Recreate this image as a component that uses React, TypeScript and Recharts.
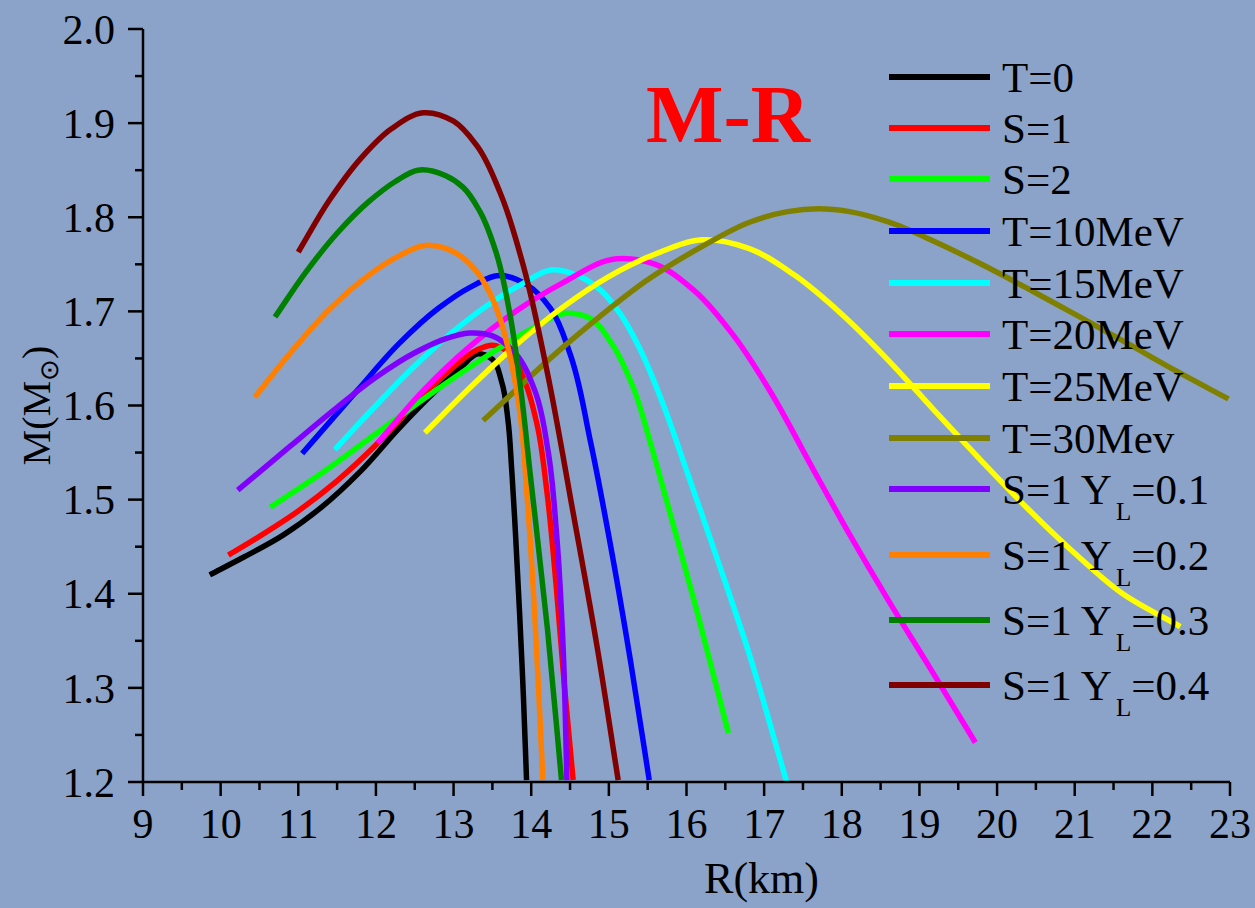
import { LineChart, Line, XAxis, YAxis, Legend, Customized } from 'recharts';

const FONT = "'Liberation Serif', 'Times New Roman', Times, serif";
const BG = '#8ba3c9';

// [R (km), M (Msun)]
const t0Curve = [[9.86, 1.42], [10.3, 1.439], [10.8, 1.462], [11.3, 1.492], [11.8, 1.53], [12.3, 1.576], [12.8, 1.618], [13.1, 1.641], [13.32, 1.655], [13.5, 1.649], [13.62, 1.625], [13.7, 1.585], [13.75, 1.53], [13.8, 1.46], [13.85, 1.38], [13.9, 1.29], [13.94, 1.202]];
const s1Curve = [[10.1, 1.441], [10.5, 1.461], [11.0, 1.488], [11.5, 1.52], [12.0, 1.558], [12.5, 1.602], [13.0, 1.641], [13.3, 1.659], [13.5, 1.664], [13.72, 1.656], [13.92, 1.625], [14.08, 1.578], [14.2, 1.51], [14.32, 1.41], [14.43, 1.3], [14.54, 1.202]];
const s2Curve = [[10.64, 1.492], [11.3, 1.528], [12.0, 1.57], [12.7, 1.612], [13.4, 1.651], [14.0, 1.681], [14.45, 1.698], [14.75, 1.693], [15.05, 1.664], [15.3, 1.622], [15.55, 1.556], [15.8, 1.482], [16.1, 1.392], [16.54, 1.252]];
const t10Curve = [[11.05, 1.549], [11.76, 1.616], [12.3, 1.666], [12.8, 1.703], [13.2, 1.725], [13.6, 1.738], [13.95, 1.728], [14.25, 1.703], [14.5, 1.655], [14.76, 1.563], [15.02, 1.452], [15.28, 1.328], [15.52, 1.202]];
const t15Curve = [[11.47, 1.553], [12.0, 1.6], [12.5, 1.642], [13.0, 1.679], [13.5, 1.71], [13.9, 1.73], [14.25, 1.744], [14.6, 1.738], [14.9, 1.722], [15.15, 1.697], [15.4, 1.66], [15.7, 1.601], [16.0, 1.531], [16.4, 1.436], [16.8, 1.338], [17.29, 1.2]];
const t20Curve = [[12.02, 1.56], [12.6, 1.615], [13.2, 1.662], [13.8, 1.7], [14.4, 1.73], [15.1, 1.756], [15.6, 1.75], [16.1, 1.722], [16.6, 1.675], [17.1, 1.612], [17.6, 1.537], [18.1, 1.463], [18.6, 1.393], [19.1, 1.326], [19.72, 1.242]];
const t25Curve = [[12.63, 1.571], [13.2, 1.618], [13.8, 1.664], [14.4, 1.704], [15.0, 1.737], [15.6, 1.761], [16.2, 1.776], [16.8, 1.767], [17.4, 1.738], [18.0, 1.697], [18.6, 1.648], [19.2, 1.594], [19.8, 1.541], [20.4, 1.49], [21.0, 1.443], [21.6, 1.401], [22.36, 1.365]];
const t30Curve = [[13.38, 1.584], [14.41, 1.662], [14.89, 1.695], [15.49, 1.733], [16.18, 1.768], [16.82, 1.795], [17.3, 1.806], [17.7, 1.809], [18.1, 1.806], [18.6, 1.795], [19.2, 1.774], [19.8, 1.75], [20.4, 1.724], [21.0, 1.697], [21.68, 1.666], [22.3, 1.637], [22.98, 1.607]];
const yl1Curve = [[10.22, 1.51], [10.9, 1.557], [11.5, 1.598], [12.0, 1.63], [12.5, 1.656], [12.9, 1.671], [13.2, 1.677], [13.5, 1.674], [13.8, 1.655], [14.05, 1.615], [14.22, 1.55], [14.33, 1.46], [14.41, 1.345], [14.46, 1.202]];
const yl2Curve = [[10.44, 1.609], [10.9, 1.656], [11.4, 1.702], [11.9, 1.738], [12.3, 1.759], [12.63, 1.77], [12.9, 1.767], [13.12, 1.757], [13.3, 1.742], [13.47, 1.719], [13.6, 1.692], [13.72, 1.655], [13.85, 1.595], [13.95, 1.5], [14.04, 1.385], [14.1, 1.29], [14.15, 1.202]];
const yl3Curve = [[10.7, 1.694], [11.1, 1.742], [11.5, 1.783], [11.9, 1.816], [12.25, 1.838], [12.54, 1.85], [12.9, 1.844], [13.12, 1.832], [13.34, 1.806], [13.55, 1.762], [13.73, 1.695], [13.86, 1.621], [13.99, 1.525], [14.21, 1.362], [14.39, 1.202]];
const yl4Curve = [[11.0, 1.763], [11.4, 1.818], [11.8, 1.862], [12.2, 1.894], [12.61, 1.911], [13.0, 1.902], [13.3, 1.876], [13.6, 1.826], [13.9, 1.748], [14.2, 1.638], [14.54, 1.486], [14.85, 1.343], [15.12, 1.202]];

const seriesNames = ['T=0', 'S=1', 'S=2', 'T=10MeV', 'T=15MeV', 'T=20MeV', 'T=25MeV', 'T=30Mev', 'S=1 Y_L=0.1', 'S=1 Y_L=0.2', 'S=1 Y_L=0.3', 'S=1 Y_L=0.4'];
const seriesColors = ['#000000', '#ff0000', '#00ff00', '#0000ff', '#00ffff', '#ff00ff', '#ffff00', '#808000', '#8000ff', '#ff8000', '#008000', '#800000'];
const seriesCurves = [t0Curve, s1Curve, s2Curve, t10Curve, t15Curve, t20Curve, t25Curve, t30Curve, yl1Curve, yl2Curve, yl3Curve, yl4Curve];

const xTicks = [9, 9.5, 10, 10.5, 11, 11.5, 12, 12.5, 13, 13.5, 14, 14.5, 15, 15.5, 16, 16.5, 17, 17.5, 18, 18.5, 19, 19.5, 20, 20.5, 21, 21.5, 22, 22.5, 23];
const yTicks = [1.2, 1.25, 1.3, 1.35, 1.4, 1.45, 1.5, 1.55, 1.6, 1.65, 1.7, 1.75, 1.8, 1.85, 1.9, 1.95, 2.0];

// legend row centres (px from top of chart)
const legendRowY = [77, 128, 179, 231, 283, 334, 386, 438, 489, 555, 620, 685];

const series = seriesNames.map((name, i) => ({
  name,
  color: seriesColors[i],
  data: seriesCurves[i].map(([r, m]) => ({ r, m })),
}));

// chord-length (Bessel tangent) cubic curve, smoother than index-based splines on uneven points
const smoothCurve = (context: any) => {
  let pts: number[][] = [];
  return {
    areaStart() {},
    areaEnd() {},
    lineStart() {
      pts = [];
    },
    point(x: number, y: number) {
      pts.push([+x, +y]);
    },
    lineEnd() {
      const n = pts.length;
      if (!n) return;
      context.moveTo(pts[0][0], pts[0][1]);
      if (n < 3) {
        if (n === 2) context.lineTo(pts[1][0], pts[1][1]);
        return;
      }
      const d: number[] = [];
      for (let i = 0; i < n - 1; i++) {
        d.push(Math.hypot(pts[i + 1][0] - pts[i][0], pts[i + 1][1] - pts[i][1]) || 1e-6);
      }
      const tan: number[][] = [];
      for (let i = 0; i < n; i++) {
        if (i === 0) {
          tan.push([(pts[1][0] - pts[0][0]) / d[0], (pts[1][1] - pts[0][1]) / d[0]]);
        } else if (i === n - 1) {
          tan.push([(pts[i][0] - pts[i - 1][0]) / d[i - 1], (pts[i][1] - pts[i - 1][1]) / d[i - 1]]);
        } else {
          const a = d[i - 1];
          const b = d[i];
          const w1 = b / (a + b);
          const w2 = a / (a + b);
          tan.push([
            (w1 * (pts[i][0] - pts[i - 1][0])) / a + (w2 * (pts[i + 1][0] - pts[i][0])) / b,
            (w1 * (pts[i][1] - pts[i - 1][1])) / a + (w2 * (pts[i + 1][1] - pts[i][1])) / b,
          ]);
        }
      }
      for (let i = 0; i < n - 1; i++) {
        const h = d[i] / 3;
        context.bezierCurveTo(
          pts[i][0] + tan[i][0] * h,
          pts[i][1] + tan[i][1] * h,
          pts[i + 1][0] - tan[i + 1][0] * h,
          pts[i + 1][1] - tan[i + 1][1] * h,
          pts[i + 1][0],
          pts[i + 1][1],
        );
      }
    },
  };
};

const XTick = (props: any) => {
  const { x, y, payload } = props;
  const major = Number.isInteger(payload.value);
  return (
    <g>
      <line x1={x} x2={x} y1={y} y2={y + (major ? 14 : 8)} stroke="#000" strokeWidth={2.5} />
      {major && (
        <text x={x} y={y + 56} textAnchor="middle" fontSize={42} fontFamily={FONT} fill="#000">
          {payload.value}
        </text>
      )}
    </g>
  );
};

const YTick = (props: any) => {
  const { x, y, payload } = props;
  const major = Math.round(payload.value * 100) % 10 === 0;
  return (
    <g>
      <line x1={x} x2={x - (major ? 15 : 8)} y1={y} y2={y} stroke="#000" strokeWidth={2.5} />
      {major && (
        <text x={x - 28} y={y} dy="0.35em" textAnchor="end" fontSize={42} fontFamily={FONT} fill="#000">
          {payload.value.toFixed(1)}
        </text>
      )}
    </g>
  );
};

const LegendLabel = ({ name }: { name: string }) => {
  if (!name.includes('_L')) return <>{name}</>;
  const [head, tail] = name.split('_L');
  return (
    <>
      {head}
      <span style={{ fontSize: 25, position: 'relative', top: 16, marginLeft: 4 }}>L</span>
      {tail}
    </>
  );
};

const renderLegend = () => (
  <div style={{ position: 'relative', width: 340, height: 720, fontFamily: FONT }}>
    {series.map((s, i) => (
      <div
        key={s.name}
        style={{ position: 'absolute', left: 0, top: legendRowY[i] - 25, height: 50, display: 'flex', alignItems: 'center', whiteSpace: 'nowrap' }}
      >
        <div style={{ width: 101, height: 6, background: s.color }} />
        <span style={{ marginLeft: 12, fontSize: 43, lineHeight: 1, color: '#000' }}>
          <LegendLabel name={s.name} />
        </span>
      </div>
    ))}
  </div>
);

const Title = () => (
  <text x={646} y={142} fontSize={82} fontWeight="bold" fontFamily={FONT} fill="#ff0000">
    M-R
  </text>
);

const renderXLabel = (props: any) => {
  const { viewBox } = props;
  return (
    <text x={viewBox.x + viewBox.width / 2 + 75} y={viewBox.y + 111} textAnchor="middle" fontSize={44} fontFamily={FONT} fill="#000">
      R(km)
    </text>
  );
};

const renderYLabel = (props: any) => {
  const { viewBox } = props;
  const cx = viewBox.x + 36;
  const cy = viewBox.y + viewBox.height / 2;
  return (
    <text x={cx} y={cy} transform={`rotate(-90 ${cx} ${cy})`} textAnchor="middle" dy="0.35em" fontSize={40} fontFamily={FONT} fill="#000">
      M(M<tspan fontSize={26} dy={8}>⊙</tspan>
      <tspan dy={-8}>)</tspan>
    </text>
  );
};

export default function App() {
  return (
    <div style={{ position: 'fixed', left: 0, top: 0, width: 1255, height: 908, background: BG, overflow: 'hidden' }}>
      <LineChart width={1255} height={908} margin={{ top: 29, right: 25, bottom: 0, left: 0 }}>
        <XAxis
          xAxisId="x"
          dataKey="r"
          type="number"
          domain={[9, 23]}
          allowDataOverflow
          ticks={xTicks}
          interval={0}
          tick={XTick}
          tickLine={false}
          tickSize={0}
          tickMargin={0}
          height={126}
          axisLine={{ stroke: '#000', strokeWidth: 2.5 }}
          label={renderXLabel}
        />
        <XAxis xAxisId="top" orientation="top" type="number" domain={[9, 23]} height={0} tick={false} tickLine={false} axisLine={{ stroke: '#000', strokeWidth: 2.5 }} />
        <YAxis
          yAxisId="y"
          type="number"
          domain={[1.2, 2.0]}
          allowDataOverflow
          ticks={yTicks}
          interval={0}
          tick={YTick}
          tickLine={false}
          tickSize={0}
          tickMargin={0}
          width={143}
          axisLine={{ stroke: '#000', strokeWidth: 2.5 }}
          label={renderYLabel}
        />
        <YAxis yAxisId="right" orientation="right" type="number" domain={[1.2, 2.0]} width={0} tick={false} tickLine={false} axisLine={{ stroke: '#000', strokeWidth: 2.5 }} />
        {series.map((s) => (
          <Line
            key={s.name}
            xAxisId="x"
            yAxisId="y"
            data={s.data}
            dataKey="m"
            name={s.name}
            type={smoothCurve as any}
            stroke={s.color}
            strokeWidth={5.5}
            dot={false}
            activeDot={false}
            isAnimationActive={false}
          />
        ))}
        <Legend layout="vertical" align="center" verticalAlign="middle" content={renderLegend} wrapperStyle={{ left: 889, top: 0, width: 340, height: 720 }} />
        <Customized component={Title} />
      </LineChart>
    </div>
  );
}
